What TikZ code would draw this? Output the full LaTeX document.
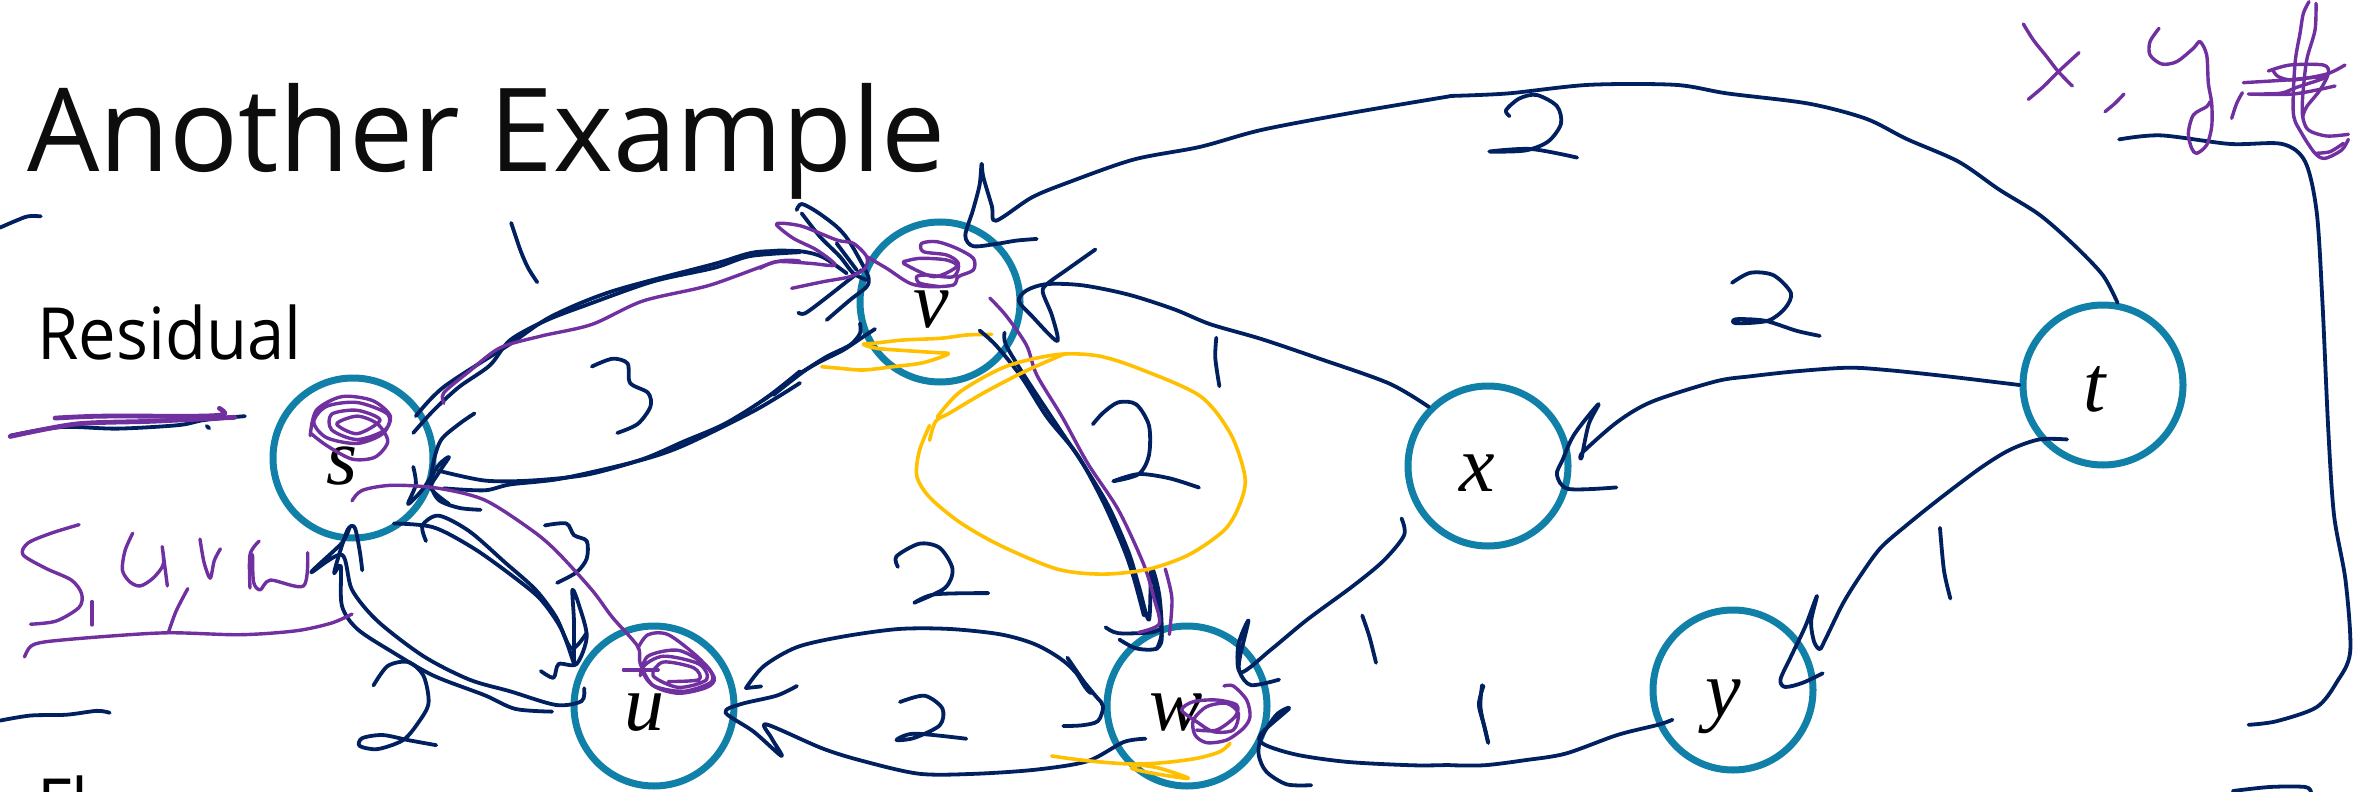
\documentclass[tikz,border=0pt]{standalone}
\usepackage{fontspec}
\setmainfont{Open Sans}
\newfontfamily\varfont{Liberation Serif}
\definecolor{inknavy}{HTML}{002060}
\definecolor{inkpurple}{HTML}{7030A0}
\definecolor{inkgold}{HTML}{FFC000}
\definecolor{nodeteal}{HTML}{1080A8}
\tikzset{
  vertex/.style={circle,draw=nodeteal,line width=3.5pt,minimum size=80pt,inner sep=0pt},
  varname/.style={inner sep=0pt,font=\varfont\itshape\fontsize{40}{44}\selectfont},
  navy/.style={draw=inknavy,line width=1.9pt,line cap=round,line join=round,smooth,tension=.5},
  purp/.style={draw=inkpurple,line width=1.7pt,line cap=round,line join=round,smooth,tension=.5},
  gold/.style={draw=inkgold,line width=1.8pt,line cap=round,line join=round,smooth,tension=.5},
  leftzone/.style={shift={(0,180)},x=.2551pt,y=-.19516pt},
  midzone/.style={shift={(700,130)},x=.2551pt,y=-.21108pt},
  rightzone/.style={shift={(1450,0)},x=.2889pt,y=-.25255pt},
  fine/.style={shift={(#1)},x=.16667pt,y=-.16667pt}
}
\begin{document}
\begin{tikzpicture}[x=.5pt,y=-.5pt]
\useasboundingbox (0,0) rectangle (2356,792);
% slide text
\node [anchor=base west,inner sep=0pt,text=black!95,xscale=.985,font=\fontsize{58}{60}\selectfont] (title) at (27,171) {Another Example};
\node [anchor=base west,inner sep=0pt,xscale=.93,font=\fontsize{36}{40}\selectfont] (residual) at (37,359) {Residual};
\node [anchor=base west,inner sep=0pt,xscale=.93,font=\fontsize{36}{40}\selectfont] (flowtext) at (37,830) {Fl};
% vertices
\node [vertex] (s) at (353,458) {};
\node [vertex] (v) at (940,302) {};
\node [vertex] (u) at (654,706) {};
\node [vertex] (w) at (1187,706) {};
\node [vertex] (x) at (1488,466) {};
\node [vertex] (y) at (1733,690) {};
\node [vertex] (t) at (2103,385) {};
\node [varname] (slabel) at (342,466) {s};
\node [varname] (vlabel) at (931,310) {v};
\node [varname] (ulabel) at (644,713) {u};
\node [varname] (wlabel) at (1176,713) {w};
\node [varname] (xlabel) at (1477,473) {x};
\node [varname] (ylabel) at (1723,707) {y};
\node [varname] (tlabel) at (2095,389) {t};
% left part of the ink
\begin{scope}[leftzone]
  \draw [navy] plot coordinates {(0,122) (30,105) (55,93) (80,93)};
  \draw [navy] plot coordinates {(20,655) (120,633) (230,637) (350,628) (400,615) (480,605)};
  \draw [navy] plot coordinates {(405,630) (410,636)};
  \draw [purp,line width=2.4pt] plot coordinates {(108,610) (200,605) (390,605) (440,600) (430,585)};
  \draw [purp,line width=2.4pt] plot coordinates {(460,608) (300,618) (150,625) (20,657)};
  \draw [navy] plot coordinates {(1002,110) (1020,180) (1035,225) (1053,262)};
  % s to v
  \draw [navy] plot coordinates {(815,605) (870,530) (1000,420) (1080,350) (1200,285) (1400,215) (1480,185) (1568,182)};
  \draw [navy] plot coordinates {(810,648) (850,590) (900,530) (960,475) (1000,410) (1070,360) (1150,320) (1280,260) (1400,225) (1470,195) (1568,185)};
  \draw [purp] plot coordinates {(870,572) (870,545) (920,490) (980,430) (1060,400) (1160,370) (1260,310) (1390,270) (1520,210) (1568,208)};
  % v to s
  \draw [navy] plot coordinates {(1568,490) (1500,560) (1420,625) (1340,670) (1260,715) (1150,755) (1040,770) (950,770) (860,745)};
  \draw [navy] plot coordinates {(1568,520) (1480,590) (1340,680) (1250,720) (1100,765) (1000,780) (950,795) (870,790)};
  \draw [navy] plot coordinates {(930,598) (900,625) (865,665) (850,720) (845,780) (860,820) (900,840) (942,845)};
  \draw [navy] plot coordinates {(810,735) (815,780) (800,830) (830,790) (860,730) (880,710) (860,750) (845,790) (880,830)};
  % s to u
  \draw [navy] plot coordinates {(772,880) (850,890) (930,945) (1010,1020) (1060,1075) (1100,1150) (1125,1240)};
  \draw [navy] plot coordinates {(835,925) (828,885) (860,860) (920,900) (990,980) (1050,1050) (1090,1120) (1120,1200) (1150,1160)};
  \draw [navy] plot coordinates {(1060,1258) (1085,1275) (1095,1240) (1130,1240) (1150,1170) (1135,1090) (1122,1050) (1125,1130) (1125,1240)};
  % u to s
  \draw [navy] plot coordinates {(1082,1362) (1010,1355) (950,1320) (850,1270) (770,1210) (700,1150) (670,1090) (668,990) (655,1005) (680,900) (695,890) (705,950) (710,1000)};
  \draw [navy] plot coordinates {(1145,1302) (1140,1335) (1090,1345) (1000,1310) (920,1280) (830,1220) (740,1130) (690,1050) (670,960) (610,1005) (670,930) (685,890)};
  % capacities
  \draw [navy] plot coordinates {(1160,478) (1200,458) (1230,470) (1235,520) (1270,545) (1275,580) (1250,625) (1210,648)};
  \draw [navy] plot coordinates {(1068,885) (1110,880) (1125,910) (1150,925) (1150,970) (1130,1005) (1092,1032)};
  \draw [navy] plot coordinates {(732,1295) (760,1245) (800,1235) (830,1270) (840,1340) (820,1390) (790,1435) (740,1458) (705,1450) (710,1430) (750,1422) (800,1435) (855,1448)};
  \draw [navy] plot coordinates {(0,1385) (60,1372) (130,1370) (190,1360) (215,1365)};
  % scribbles and path
  \draw [purp] plot coordinates {(608,655) (620,590) (670,555) (730,565) (765,605) (750,650) (700,675) (640,660) (615,620) (640,580) (700,570) (760,600) (755,640) (700,665) (650,640) (650,600) (700,590) (745,615) (700,650) (660,625) (700,605) (740,625) (760,670) (735,710) (690,715) (640,680) (610,650)};
  \draw [purp] plot coordinates {(690,822) (710,795) (770,782) (860,790) (950,820) (1040,895) (1090,950) (1160,1050) (1200,1120) (1250,1195) (1255,1240) (1280,1295) (1330,1315) (1385,1300) (1400,1275) (1370,1225) (1310,1165) (1270,1165) (1250,1200)};
  \draw [purp] plot coordinates {(1222,1255) (1290,1255)};
  \draw [purp] plot coordinates {(1255,1270) (1270,1220) (1330,1205) (1385,1245) (1395,1285) (1340,1310) (1280,1295) (1260,1250) (1300,1220) (1370,1240) (1385,1280) (1330,1300) (1280,1270) (1300,1235) (1360,1250) (1370,1280) (1310,1285)};
  % S,u,v,w
  \draw [purp] plot coordinates {(155,883) (100,905) (55,930) (45,960) (90,995) (140,1025) (160,1060) (155,1095) (110,1130) (60,1138)};
  \draw [purp] plot coordinates {(180,1080) (180,1140)};
  \draw [purp] plot coordinates {(260,905) (245,950) (240,1000) (255,1030) (275,1040) (300,1020) (320,985) (318,940) (328,1040)};
  \draw [purp] plot coordinates {(392,920) (400,980) (412,1020) (420,975) (432,945)};
  \draw [purp] plot coordinates {(508,925) (490,960) (490,1045)};
  \draw [purp] plot coordinates {(495,960) (497,1030) (510,1050) (530,1025) (595,1040) (603,955)};
  \draw [purp] plot coordinates {(48,1222) (60,1195) (90,1183) (200,1170) (330,1160) (470,1165) (580,1155) (650,1135) (690,1112)};
  \draw [purp] plot coordinates {(368,1047) (345,1105) (330,1160)};
\end{scope}
% around v
\begin{scope}[fine={760,180}]
  \draw [navy] plot coordinates {(110,90) (125,72) (170,95) (230,140) (265,180) (300,240) (325,290) (320,320) (270,360) (200,420)};
  \draw [navy] plot coordinates {(125,100) (180,170) (240,230) (280,280) (320,300)};
  \draw [navy] plot coordinates {(115,398) (135,400) (190,360) (260,305) (305,270)};
  \draw [navy] plot coordinates {(230,190) (290,270)};
  \draw [navy] plot coordinates {(0,220) (50,212) (130,215) (190,232) (260,280)};
  \draw [navy] plot coordinates {(345,447) (310,470) (250,510) (180,545) (120,580) (60,625) (10,660)};
  \draw [navy] plot coordinates {(300,430) (300,460) (270,495) (200,530) (130,575) (40,645)};
  \draw [purp] plot coordinates {(95,325) (190,305) (270,290) (315,265) (320,230) (280,190) (230,180) (130,140) (70,130) (50,135) (100,175) (170,210) (225,255) (150,250) (50,245) (0,265)};
  \draw [purp] plot coordinates {(320,230) (380,265) (450,310) (510,320) (580,315) (595,290) (640,270) (640,235) (590,205) (530,185) (485,190) (490,215) (560,225) (595,250) (580,290) (500,285) (470,290) (480,310) (540,320)};
  \draw [purp] plot coordinates {(430,245) (480,235) (560,240) (590,260) (520,290) (430,250)};
  \draw [gold] plot coordinates {(695,463) (620,465) (540,475) (430,480) (340,490) (310,493) (350,505) (440,512) (530,518) (565,522) (490,548) (400,560) (310,570) (240,565) (185,560)};
\end{scope}
% middle part of the ink
\begin{scope}[midzone]
  % v to w
  \draw [navy] plot coordinates {(548,475) (580,510) (630,585) (680,680) (740,770) (790,880) (830,990) (850,1060) (870,1150)};
  \draw [navy] plot coordinates {(597,480) (600,510) (640,590) (700,700) (750,790) (800,890) (840,1000) (860,1080) (880,1160) (885,1040) (900,1100) (905,1190) (895,1230)};
  \draw [navy] plot coordinates {(795,1178) (820,1192) (885,1190) (905,1180)};
  \draw [navy] plot coordinates {(822,1207) (855,1228) (895,1228) (905,1190) (885,1040)};
  \draw [purp] plot coordinates {(568,398) (600,440) (640,510) (660,580) (710,680) (760,790) (820,900) (870,1030) (890,1110) (900,1170) (860,1190)};
  \draw [purp] plot coordinates {(912,1040) (925,1110) (920,1195)};
  % t to v
  \draw [navy] plot coordinates {(1470,-80) (1274,-40) (1100,0) (980,40) (850,70) (720,125) (650,160) (580,215) (572,180) (555,110) (552,80) (548,130) (535,190) (520,250) (535,275) (580,270) (620,262) (660,258)};
  % x to v
  \draw [navy] plot coordinates {(x.135) (1350,600) (1210,540) (1100,495) (1000,460) (930,425) (840,390) (750,368) (680,365) (640,380) (625,405) (650,440) (700,500) (690,440) (672,385) (680,365) (720,330) (775,283)};
  % x to w
  \draw [navy] plot coordinates {(1375,920) (1380,960) (1340,1020) (1280,1080) (1190,1160) (1120,1230) (1060,1285) (1055,1220) (1075,1162) (1058,1250) (1058,1285) (1080,1315) (1135,1302)};
  % w to u
  \draw [navy] plot coordinates {(90,1322) (120,1318)};
  \draw [navy] plot coordinates {(90,1322) (125,1270) (190,1225) (280,1200) (390,1182) (490,1182) (590,1195) (660,1220) (720,1265) (775,1340) (790,1365) (780,1400) (750,1410) (712,1412)};
  \draw [navy] plot coordinates {(720,1250) (765,1330) (755,1320) (730,1270)};
  \draw [navy] plot coordinates {(873,1442) (830,1450) (760,1495) (660,1515) (540,1525) (430,1525) (320,1495) (240,1465) (130,1408) (140,1440) (160,1483) (105,1425) (50,1380) (80,1360) (150,1340) (190,1317)};
  % y to w
  \draw [navy] plot coordinates {(1470,1504) (1400,1505) (1270,1497) (1170,1480) (1105,1455) (1100,1430) (1155,1370) (1130,1385) (1100,1440) (1095,1480) (1110,1520) (1150,1550) (1198,1552)};
  % capacities
  \draw [navy] plot coordinates {(770,697) (790,670) (820,645) (855,650) (880,700) (880,770) (860,815) (810,832) (860,815) (920,825) (978,847)};
  \draw [navy] plot coordinates {(1012,492) (1010,540) (1018,607)};
  \draw [navy] plot coordinates {(388,1035) (385,1010) (430,980) (470,990) (495,1040) (480,1085) (420,1120) (460,1100) (565,1097)};
  \draw [navy] plot coordinates {(1298,1150) (1312,1200) (1325,1262)};
  \draw [navy] plot coordinates {(1533,1315) (1530,1370) (1545,1452)};
  \draw [navy] plot coordinates {(392,1355) (440,1340) (475,1370) (470,1410) (420,1440) (385,1445) (420,1430) (522,1442)};
  % cut around the edge
  \draw [gold] plot coordinates {(715,530) (640,570) (560,620) (490,670) (462,690) (450,735)};
  \draw [gold] plot coordinates {(465,680) (510,620) (600,560) (700,532) (780,535) (860,565) (980,630) (1040,720) (1068,820) (1060,880) (1030,945) (960,1005) (880,1040) (790,1052) (700,1040) (590,985) (510,930) (450,870) (425,820) (430,760) (450,700)};
\end{scope}
% around w
\begin{scope}[fine={1020,540}]
  \draw [purp] plot coordinates {(612,438) (640,438) (680,480) (690,530) (670,565) (620,600) (560,608) (525,585) (520,540) (560,500) (620,490) (655,520) (640,570) (580,575) (530,545) (485,510) (520,485) (590,480) (650,495) (645,530) (590,570) (530,570)};
  \draw [gold] plot coordinates {(95,648) (200,662) (330,672) (430,668) (530,655) (600,635) (630,610)};
  \draw [gold] plot coordinates {(360,675) (335,685) (400,700) (505,715) (420,685) (360,675)};
\end{scope}
% right part of the ink
\begin{scope}[rightzone]
  % t to v, t to x, t to y
  \draw [navy] plot coordinates {(0,190) (100,185) (240,168) (390,168) (480,185) (620,205) (720,235) (790,275) (880,320) (950,375) (1020,425) (1080,485) (1130,545) (t.80)};
  \draw [navy] plot coordinates {(t.west) (860,745) (760,733) (690,728) (600,735) (520,745) (460,755) (350,795) (290,835) (230,895) (228,905) (240,840) (257,800) (215,860) (195,910) (185,940) (205,968) (288,965)};
  \draw [navy] plot coordinates {(1068,870) (1020,870) (970,890) (920,925) (850,985) (790,1040) (745,1085) (710,1140) (680,1195) (650,1265) (640,1285) (630,1270) (625,1230) (635,1180) (615,1240) (590,1300) (572,1345) (580,1360) (610,1352) (645,1333)};
  % y to w
  \draw [navy] plot coordinates {(385,1425) (360,1435) (290,1455) (200,1492) (130,1505) (60,1515) (0,1515)};
  % capacities
  \draw [navy] plot coordinates {(848,1045) (855,1130) (866,1185)};
  \draw [navy] plot coordinates {(58,1358) (50,1395) (60,1440) (66,1470)};
  \draw [navy] plot coordinates {(103,230) (97,218) (120,195) (150,188) (185,210) (192,245) (170,280) (130,298) (68,300) (140,295) (220,312)};
  \draw [navy] plot coordinates {(488,560) (520,540) (560,545) (590,580) (580,610) (550,635) (495,640) (495,632) (545,635) (600,655) (640,665)};
  % long way round
  \draw [navy] plot coordinates {(1382,1435) (1430,1428) (1500,1400) (1535,1350) (1558,1290) (1550,1150) (1530,1020) (1520,850) (1510,600) (1500,420) (1480,320) (1440,285) (1350,285) (1230,268) (1158,276)};
  \draw [navy] plot coordinates {(1355,1566) (1420,1558) (1480,1558) (1490,1568)};
\end{scope}
% x,y,t
\begin{scope}[fine={1980,0}]
  \draw [purp] plot coordinates {(130,72) (160,120) (200,170) (235,215) (277,258)};
  \draw [purp] plot coordinates {(297,158) (235,215) (190,260) (145,298)};
  \draw [purp] plot coordinates {(432,282) (405,310) (375,335)};
  \draw [purp] plot coordinates {(537,85) (510,125) (510,165) (545,192) (590,185) (640,145) (660,125) (680,165) (685,250) (695,310) (695,380) (680,435) (650,460) (635,445) (625,400) (640,345) (680,320) (690,305)};
  \draw [purp] plot coordinates {(787,278) (770,310) (755,355)};
  \draw [purp] plot coordinates {(987,5) (970,40) (960,100) (945,190) (940,340) (965,400) (1005,460) (1035,475) (1085,450) (1105,418)};
  \draw [purp] plot coordinates {(1008,10) (1005,90) (980,180) (968,290) (968,350) (985,390) (1040,408) (1105,403)};
  \draw [purp] plot coordinates {(1005,460) (1050,455) (1090,430)};
  \draw [purp] plot coordinates {(790,248) (920,240) (1040,230) (950,262) (900,280) (805,282) (940,282) (1065,258)};
  \draw [purp] plot coordinates {(865,213) (930,195) (1030,195) (1045,220) (1020,270) (980,320) (968,350)};
  \draw [purp] plot coordinates {(880,213) (895,230) (940,240) (1040,222) (1095,195)};
\end{scope}
\end{tikzpicture}
\end{document}
